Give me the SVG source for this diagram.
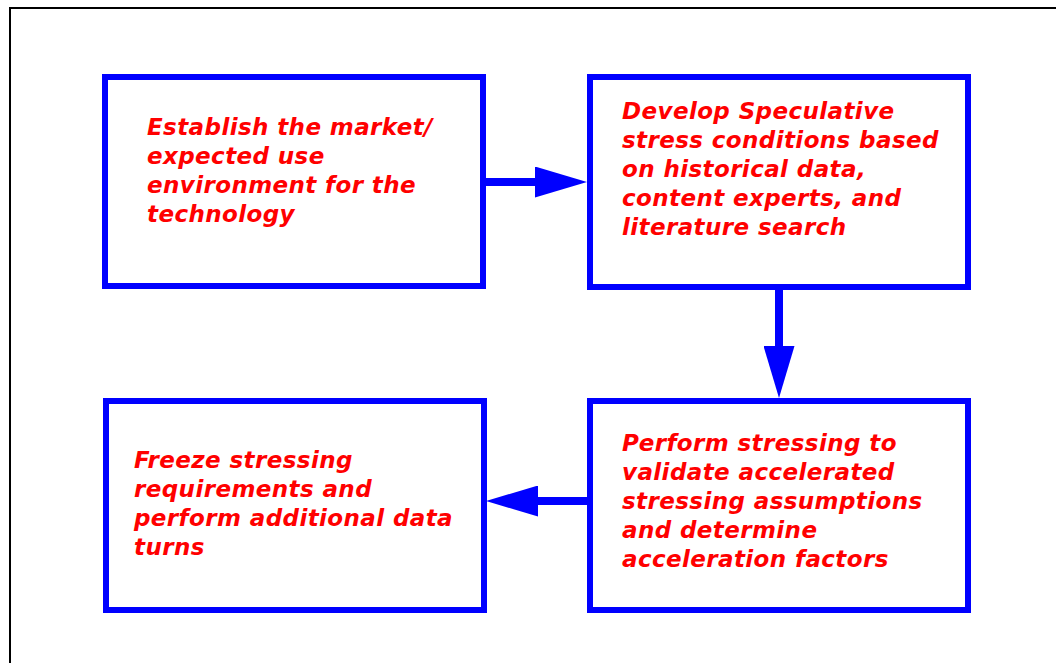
<svg xmlns="http://www.w3.org/2000/svg" width="1056" height="663" viewBox="0 0 1056 663">
<style>
.box{fill:#fff;stroke:#0000ff;stroke-width:6}
.lbl{font-family:"DejaVu Sans",Verdana,sans-serif;font-weight:bold;font-style:italic;font-size:23px;letter-spacing:0.4px;fill:#ff0000}
.conn{stroke:#0000ff;stroke-width:8;fill:none}
</style>
<defs>
<marker id="head" viewBox="0 0 52 31" markerWidth="52" markerHeight="31" refX="0" refY="15.5" orient="auto" markerUnits="userSpaceOnUse">
<path d="M0,0 L52,15.5 L0,31 Z" fill="#0000ff"/>
</marker>
</defs>
<rect x="10" y="8" width="1100" height="700" fill="#fff" stroke="#000" stroke-width="2"/>
<g id="connectors">
<line class="conn" x1="486" y1="182" x2="535" y2="182" marker-end="url(#head)"/>
<line class="conn" x1="779" y1="290" x2="779" y2="346" marker-end="url(#head)"/>
<line class="conn" x1="587" y1="501" x2="538" y2="501" marker-end="url(#head)"/>
</g>
<g id="node1">
<rect class="box" x="105" y="77" width="378" height="209"/>
<text class="lbl"><tspan x="147" y="135">Establish the market/</tspan><tspan x="147" y="164">expected use</tspan><tspan x="147" y="193">environment for the</tspan><tspan x="147" y="222">technology</tspan></text>
</g>
<g id="node2">
<rect class="box" x="590" y="77" width="378" height="210"/>
<text class="lbl"><tspan x="622" y="119">Develop Speculative</tspan><tspan x="622" y="148">stress conditions based</tspan><tspan x="622" y="177">on historical data,</tspan><tspan x="622" y="206">content experts, and</tspan><tspan x="622" y="235">literature search</tspan></text>
</g>
<g id="node3">
<rect class="box" x="590" y="401" width="378" height="209"/>
<text class="lbl"><tspan x="622" y="451">Perform stressing to</tspan><tspan x="622" y="480">validate accelerated</tspan><tspan x="622" y="509">stressing assumptions</tspan><tspan x="622" y="538">and determine</tspan><tspan x="622" y="567">acceleration factors</tspan></text>
</g>
<g id="node4">
<rect class="box" x="106" y="401" width="378" height="209"/>
<text class="lbl"><tspan x="134" y="468">Freeze stressing</tspan><tspan x="134" y="497">requirements and</tspan><tspan x="134" y="526">perform additional data</tspan><tspan x="134" y="555">turns</tspan></text>
</g>
</svg>
